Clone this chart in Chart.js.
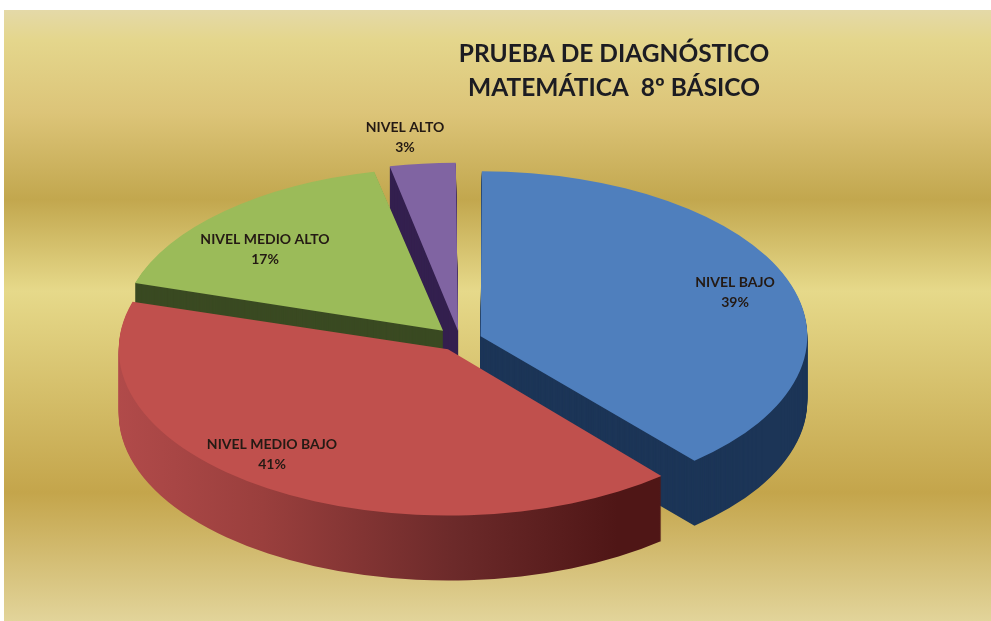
<!DOCTYPE html>
<html><head><meta charset="utf-8">
<style>html,body{margin:0;padding:0;background:#fff;overflow:hidden}#w{width:991px;height:621px}</style>
<script src="https://cdn.jsdelivr.net/npm/chart.js@4"></script></head>
<body><div id="w"><canvas id="c" width="991" height="621"></canvas></div>
<script>
const categories = ["NIVEL BAJO", "NIVEL MEDIO BAJO", "NIVEL MEDIO ALTO", "NIVEL ALTO"];
const values = [38.7, 41.0, 16.9, 3.4];
const topColors = ["#4f7fbd", "#c0504d", "#9bbb59", "#8064a2"];
const wallColors = ["#1c3557", null, "#3a4a22", "#34204f"];
const explode = [88, 88, 100, 72];
const titleLines = ["PRUEBA DE DIAGNÓSTICO", "MATEMÁTICA  8º BÁSICO"];
const labelPos = [[735, 292], [272, 454], [265, 249], [405, 137]];
const CX = 460, CY = 340, SQUASH = 0.505, DEPTH = 65;
const bgStops = [[0,"#e4d9a8"],[0.05,"#e4d68c"],[0.17,"#dcc478"],[0.31,"#c2a74e"],[0.46,"#e6d98a"],[0.79,"#c4a54b"],[1,"#e2d49a"]];

function place(ctx, el, dy) {
  ctx.translate(CX, CY + dy);
  ctx.scale(1, SQUASH);
  ctx.translate(-el.x, -el.y);
}
const pie3d = {
  id: 'pie3d',
  beforeDraw(chart) {
    const ctx = chart.ctx, g = ctx.createLinearGradient(0, 10, 0, 621);
    bgStops.forEach(s => g.addColorStop(s[0], s[1]));
    ctx.fillStyle = g;
    ctx.fillRect(4, 10, 987, 611);
  },
  beforeDatasetDraw(chart, args) {
    const ctx = chart.ctx, arcs = args.meta.data;
    const redWall = ctx.createLinearGradient(120, 0, 665, 0);
    redWall.addColorStop(0, "#b84e4e");
    redWall.addColorStop(0.35, "#9a3f3d");
    redWall.addColorStop(0.7, "#6c2a2a");
    redWall.addColorStop(1, "#4f1616");
    [3, 2, 0, 1].forEach(i => {
      const el = arcs[i], saved = el.options;
      el.options = Object.assign({}, saved, {backgroundColor: wallColors[i] || redWall, borderWidth: 0});
      for (let d = DEPTH; d >= 1; d--) {
        ctx.save(); place(ctx, el, d); el.draw(ctx); ctx.restore();
      }
      el.options = saved;
    });
    ctx.save();
    place(ctx, arcs[0], 0);
  },
  afterDatasetDraw(chart) {
    chart.ctx.restore();
  },
  afterDraw(chart) {
    const ctx = chart.ctx;
    ctx.save();
    ctx.textAlign = 'center';
    ctx.textBaseline = 'middle';
    ctx.fillStyle = '#1c1c22';
    ctx.font = '700 24.5px Lato';
    titleLines.forEach((t, i) => ctx.fillText(t, 614, 54 + i * 34));
    ctx.font = '700 14px Lato';
    categories.forEach((c, i) => {
      ctx.fillStyle = '#241a14';
      ctx.fillText(c, labelPos[i][0], labelPos[i][1] - 10);
      ctx.fillText(Math.round(values[i]) + '%', labelPos[i][0], labelPos[i][1] + 10);
    });
    ctx.restore();
  }
};
new Chart(document.getElementById('c'), {
  type: 'pie',
  data: { labels: categories, datasets: [{ data: values, backgroundColor: topColors, borderWidth: 0, offset: explode, clip: false }] },
  options: {
    responsive: false, animation: false, events: [], radius: 319,
    plugins: { legend: { display: false }, tooltip: { enabled: false } }
  },
  plugins: [pie3d]
});
</script></body></html>
